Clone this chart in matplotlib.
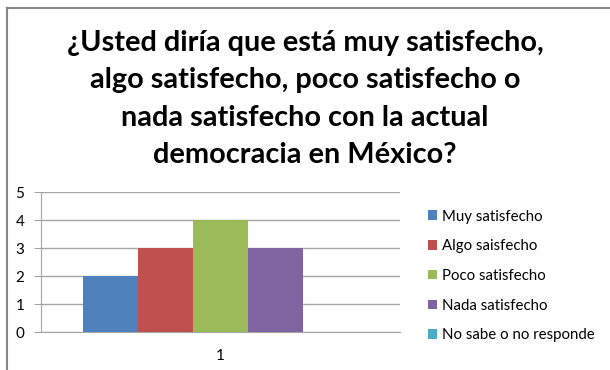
import numpy as np
import matplotlib.pyplot as plt
from matplotlib.lines import Line2D
from matplotlib.patches import Patch

plt.rcParams['font.family'] = ['Lato', 'DejaVu Sans']

# survey answers, one series per answer
series = ["Muy satisfecho", "Algo saisfecho", "Poco satisfecho",
          "Nada satisfecho", "No sabe o no responde"]
values = [2, 3, 4, 3, 0]
colors = ["#4f81bd", "#c0504d", "#9bbb59", "#8064a2", "#4bacc6"]
category = ["1"]
title = ("¿Usted diría que está muy satisfecho,\n"
         "algo satisfecho, poco satisfecho o\n"
         "nada satisfecho con la actual\n"
         "democracia en México?")

fig = plt.figure(figsize=(6.1, 3.7), dpi=100)
ax = fig.add_axes([41 / 610, 1 - 332 / 370, 359 / 610, 140 / 370])

n = len(series)
width = 0.766 / n
offsets = (np.arange(n) - (n - 1) / 2) * width
for i in range(n):
    ax.bar(offsets[i], values[i], width=width, color=colors[i],
           label=series[i], zorder=3)

ax.set_xlim(-0.5, 0.5)
ax.set_ylim(0, 5)
ax.set_yticks(range(0, 6))
ax.set_xticks([0])
ax.set_xticklabels(category)
ax.grid(axis='y', color='#a6a6a6', linewidth=1, zorder=0)
for s in ['top', 'right']:
    ax.spines[s].set_visible(False)
ax.spines['left'].set_color('#a6a6a6')
ax.spines['bottom'].set_color('#a6a6a6')
ax.tick_params(axis='y', length=5, color='#a6a6a6', labelsize=11, pad=7)
ax.tick_params(axis='x', length=0, labelsize=11, pad=12)

fig.text(0.5, 1 - 99 / 370, title, ha='center', va='center',
         fontsize=20.8, fontweight='bold', linespacing=1.55)

handles = [Patch(facecolor=c, edgecolor='none') for c in colors]
fig.legend(handles, series, loc='upper left', bbox_to_anchor=(414 / 610, 1 - 196 / 370),
           frameon=False, fontsize=10.8, handlelength=0.6, handleheight=0.6,
           handletextpad=0.4, labelspacing=1.05)

# chart frame
fig.add_artist(Line2D([7 / 610, 1], [1 - 8 / 370, 1 - 8 / 370], color='#868686', lw=1.5))
fig.add_artist(Line2D([7 / 610, 7 / 610], [0, 1 - 8 / 370], color='#868686', lw=1.5))

fig.savefig("out.png", dpi=100, facecolor='white')
